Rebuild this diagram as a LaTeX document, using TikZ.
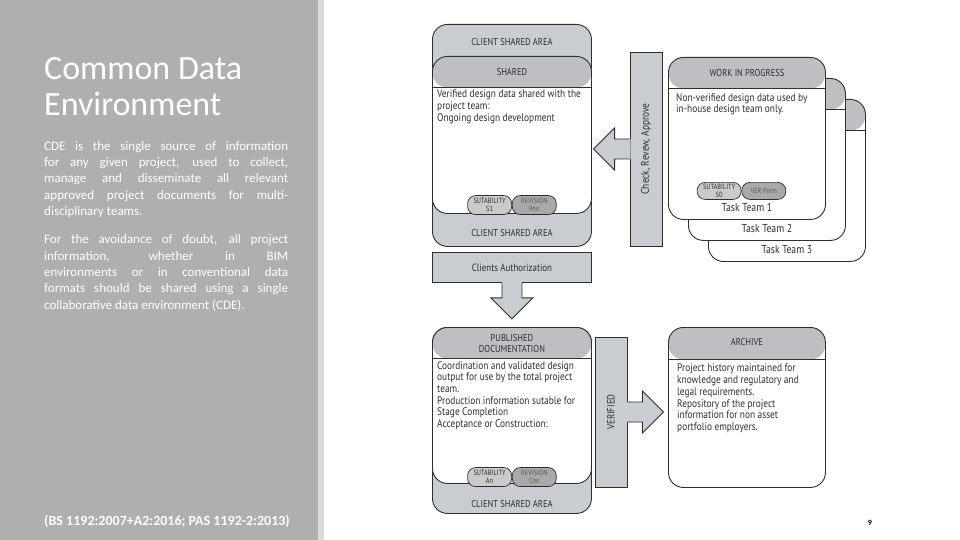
\documentclass[tikz,border=0pt]{standalone}
\usepackage{fontspec}
\setmainfont{Carlito}
\newfontfamily\dinfont[FakeStretch=0.85]{PT Sans}
\usetikzlibrary{positioning}
\definecolor{panelgray}{HTML}{AFAFAF}
\definecolor{stripgray}{HTML}{DADADA}
\definecolor{areagray}{HTML}{C9CCD0}
\definecolor{hdgray}{HTML}{BEBFC2}
\definecolor{pillgray}{HTML}{CACACA}
\definecolor{revgray}{HTML}{A9A9AA}
\definecolor{inkgray}{HTML}{2E2E2E}
\tikzset{node distance=12pt, auto,
  titletext/.style={text=white, font=\fontsize{34}{36.5}\selectfont, align=left, inner sep=0pt, anchor=north west},
  paratext/.style={text=white, font=\fontsize{13}{16.3}\selectfont, text width=244pt, align=justify, inner sep=0pt, anchor=north west},
  areabox/.style={draw=inkgray, line width=0.9pt, fill=areagray, rounded corners=15pt, minimum width=159pt, inner sep=0pt, anchor=north west},
  card/.style={draw=inkgray, line width=0.9pt, fill=white, rounded corners=15pt, inner sep=0pt, anchor=north west,
    path picture={\fill[hdgray] (path picture bounding box.north west) rectangle ([yshift=-#1]path picture bounding box.north east);
      \draw[inkgray, line width=0.7pt] ([yshift=-#1]path picture bounding box.north west) -- ([yshift=-#1]path picture bounding box.north east);}},
  card/.default=31pt,
  bar/.style={draw=inkgray, line width=0.9pt, fill=areagray, inner sep=0pt, text=inkgray, font=\dinfont\fontsize{10.5}{12}\selectfont},
  hdtext/.style={text=inkgray, font=\dinfont\fontsize{10}{11}\selectfont, align=center, inner sep=0pt},
  bodytext/.style={text=inkgray, font=\dinfont\fontsize{11}{11.7}\selectfont, align=left, inner sep=0pt, anchor=north west},
  teamtext/.style={text=inkgray, font=\dinfont\fontsize{11.5}{12}\selectfont, inner sep=0pt},
  pill/.style={draw=inkgray, line width=0.7pt, fill=pillgray, rounded corners=8pt, minimum width=44pt, minimum height=19pt, inner sep=0pt, align=center, text=inkgray, font=\dinfont\fontsize{7.5}{8}\selectfont},
  revpill/.style={pill, fill=revgray, text=black!65},
  arrowfill/.style={fill=areagray},
  arrowline/.style={draw=inkgray, line width=0.9pt, line join=miter}
}
\tolerance=9999
\begin{document}
\begin{tikzpicture}[x=1pt, y=-1pt]
\useasboundingbox (0,0) rectangle (960,540);
\fill[panelgray] (0,0) rectangle (318,540);
\fill[stripgray] (318,0) rectangle (324,540);

\node[titletext] (title) at (44,57) {Common Data\\Environment};
\node[paratext] (p1) at (44,141) {CDE is the single source of information\linebreak for any given project, used to collect,\linebreak manage and disseminate all relevant\linebreak approved project documents for multi-\linebreak disciplinary teams.};
\node[paratext, below=17pt of p1.south west, anchor=north west] (p2) {For the avoidance of doubt, all project\linebreak information, whether in BIM\linebreak environments or in conventional data\linebreak formats should be shared using a single\linebreak collaborative data environment (CDE).};
\node[text=white, font=\bfseries\fontsize{14}{16}\selectfont, anchor=west, inner sep=0pt] (cite) at (44,521) {(BS 1192:2007+A2:2016; PAS 1192-2:2013)};
\node[font=\bfseries\fontsize{8}{9}\selectfont, inner sep=0pt] (page) at (870,523) {9};

\node[areabox, minimum height=222pt] (area1) at (432,24) {};
\node[hdtext] (area1top) at ([yshift=-18pt]area1.north) {CLIENT SHARED AREA};
\node[card, minimum width=159pt, minimum height=157pt] (shared) at (432,56) {};
\node[hdtext] (sharedhd) at ([yshift=-16pt]shared.north) {SHARED};
\node[bodytext] (sharedtxt) at ([xshift=5pt,yshift=-34pt]shared.north west) {Verified design data shared with the\\project team:\\Ongoing design development};
\node[pill, anchor=south east] (suit1) at ([yshift=-1pt]shared.south) {SUTABILITY\\S1};
\node[revpill, anchor=south west] (rev1) at ([yshift=-1pt]shared.south) {REVISION\\Pnn};
\node[hdtext] (area1bot) at ([yshift=14pt]area1.south) {CLIENT SHARED AREA};

\node[bar, rotate=90, minimum width=194pt, minimum height=32pt, font=\dinfont\fontsize{11}{12}\selectfont] (chk) at (646,149) {Check, Revew, Approve};
\fill[arrowfill] ([xshift=1pt]chk.north) ++(0,-10) -- ++(-16,0) -- ++(0,-11) -- ++(-21,21) -- ++(21,21) -- ++(0,-11) -- ++(16,0) -- cycle;
\draw[arrowline] (chk.north) ++(0,-10) -- ++(-15,0) -- ++(0,-11) -- ++(-21,21) -- ++(21,21) -- ++(0,-11) -- ++(15,0);

\foreach \n in {3,2,1} {
  \node[card, minimum width=157pt, minimum height=162pt] (wip\n) at ({668+20*(\n-1)},{57+21*(\n-1)}) {};
  \node[teamtext] (team\n) at ([yshift=12pt]wip\n.south) {Task Team \n};
}
\node[hdtext] (wiphd) at ([yshift=-16pt]wip1.north) {WORK IN PROGRESS};
\node[bodytext] (wiptxt) at ([xshift=8pt,yshift=-36pt]wip1.north west) {Non-verified design data used by\\in-house design team only.};
\node[pill, anchor=east, minimum height=17pt] (suit0) at ([xshift=-5.5pt,yshift=29pt]wip1.south) {SUTABILITY\\S0};
\node[revpill, anchor=west, minimum height=17pt] (ver0) at (suit0.east) {VER Pnnn};

\node[bar, minimum width=159pt, minimum height=30pt, anchor=north west] (auth) at (432,252) {Clients Authorization};
\fill[arrowfill] ([yshift=1pt]auth.south) ++(-10,0) -- ++(0,16) -- ++(-11,0) -- ++(21,21) -- ++(21,-21) -- ++(-11,0) -- ++(0,-16) -- cycle;
\draw[arrowline] (auth.south) ++(-10,0) -- ++(0,15) -- ++(-11,0) -- ++(21,21) -- ++(21,-21) -- ++(-11,0) -- ++(0,-15);

\node[areabox, minimum height=186pt] (area2) at (432,327) {};
\node[card, minimum width=159pt, minimum height=156pt] (pub) at (432,327) {};
\node[hdtext] (pubhd) at ([yshift=-16pt]pub.north) {PUBLISHED\\DOCUMENTATION};
\node[bodytext] (pubtxt) at ([xshift=5pt,yshift=-34pt]pub.north west) {Coordination and validated design\\output for use by the total project\\team.\\Production information sutable for\\Stage Completion\\Acceptance or Construction:};
\node[pill, anchor=south east] (suit2) at ([yshift=-3pt]pub.south) {SUTABILITY\\An};
\node[revpill, anchor=south west] (rev2) at ([yshift=-3pt]pub.south) {REVISION\\Cnn};
\node[hdtext] (area2bot) at ([yshift=10pt]area2.south) {CLIENT SHARED AREA};

\node[bar, rotate=90, minimum width=150pt, minimum height=32pt] (ver) at (611,412) {VERIFIED};
\fill[arrowfill] ([xshift=-1pt]ver.south) ++(0,-10) -- ++(16,0) -- ++(0,-11) -- ++(21,21) -- ++(-21,21) -- ++(0,-11) -- ++(-16,0) -- cycle;
\draw[arrowline] (ver.south) ++(0,-10) -- ++(15,0) -- ++(0,-11) -- ++(21,21) -- ++(-21,21) -- ++(0,-11) -- ++(-15,0);

\node[card=32pt, minimum width=157pt, minimum height=160pt] (archive) at (668,327) {};
\node[hdtext] (archivehd) at ([yshift=-15pt]archive.north) {ARCHIVE};
\node[bodytext] (archivetxt) at ([xshift=9pt,yshift=-37pt]archive.north west) {Project history maintained for\\knowledge and regulatory and\\legal requirements.\\Repository of the project\\information for non asset\\portfolio employers.};
\end{tikzpicture}
\end{document}
